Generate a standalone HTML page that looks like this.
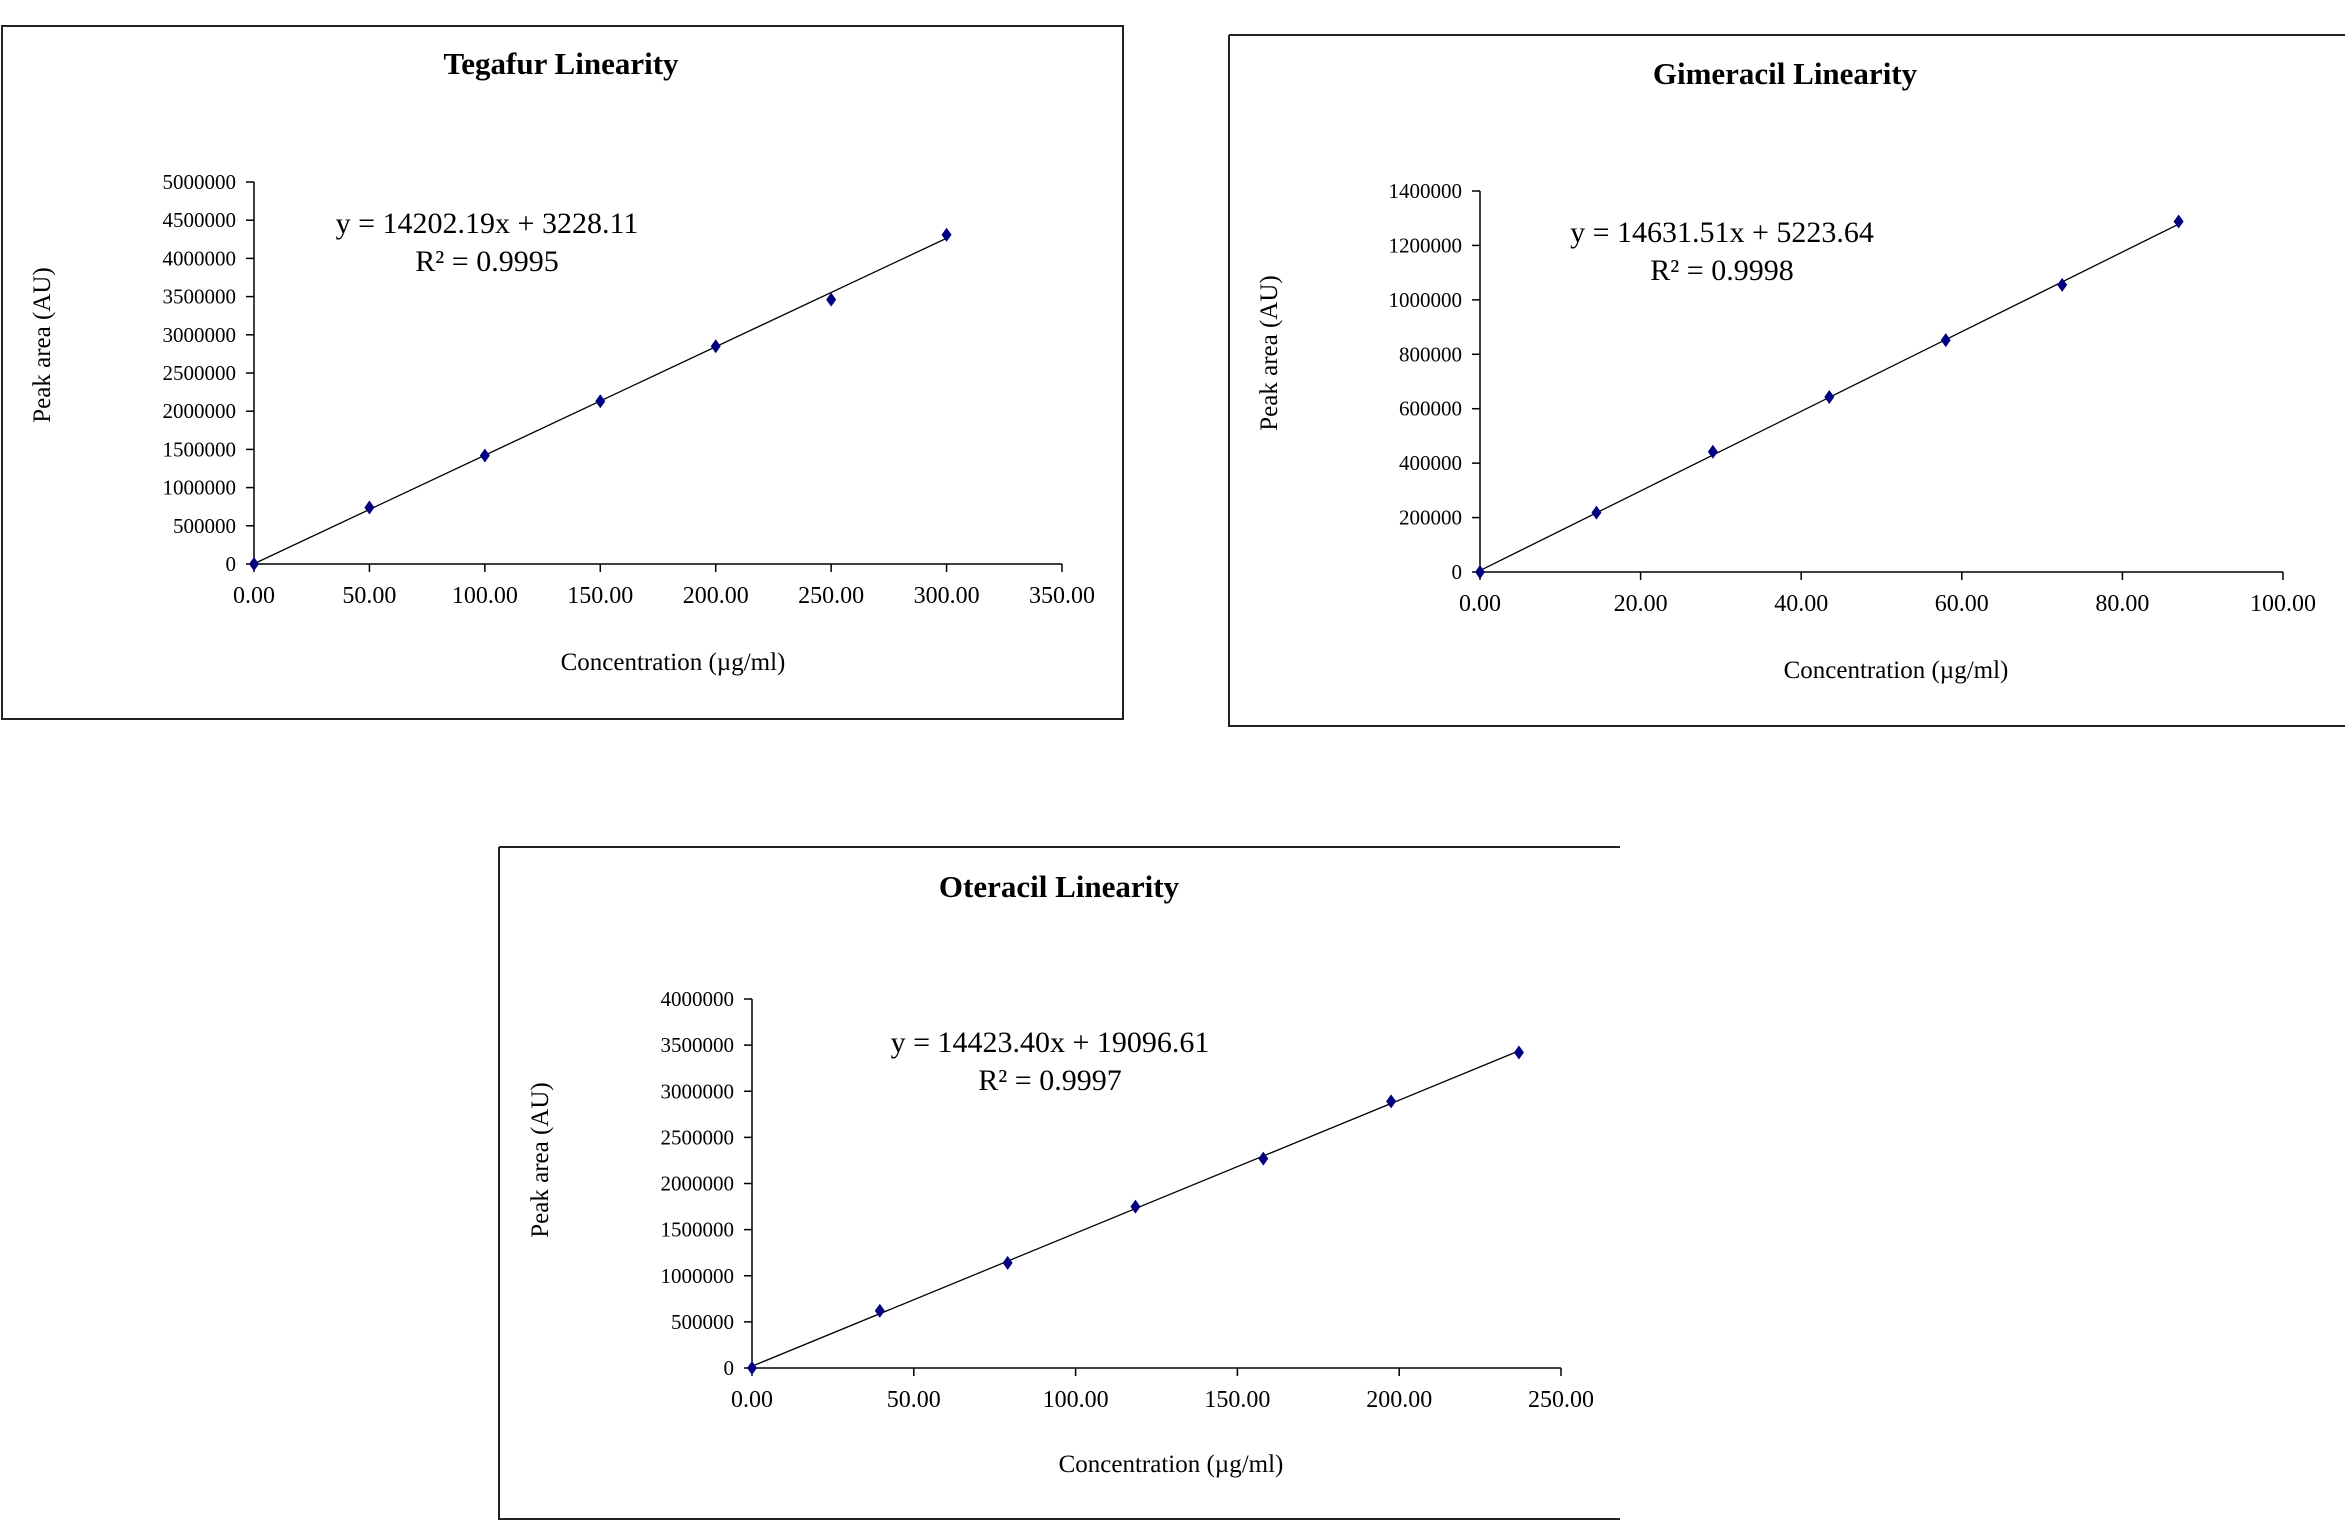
<!DOCTYPE html>
<html><head><meta charset="utf-8"><style>
body{margin:0;background:#fff;}
svg{display:block;font-family:"Liberation Serif",serif;}
</style></head><body>
<svg id="s" width="2345" height="1525" viewBox="0 0 2345 1525" xmlns="http://www.w3.org/2000/svg">
<rect x="2" y="26" width="1121" height="693" fill="none" stroke="#222" stroke-width="2"/>
<path d="M1229 35 H2345 M1229 35 V726 H2345" fill="none" stroke="#222" stroke-width="2"/>
<path d="M499 847 H1620 M499 847 V1519 H1620" fill="none" stroke="#222" stroke-width="2"/>
</svg>
<script>
// Tegafur
const tegX=[0,50,100,150,200,250,300];
const tegY=[0,740000,1420000,2130000,2850000,3460000,4310000];
const tegXTicks=[0,50,100,150,200,250,300,350];
const tegYTicks=[0,500000,1000000,1500000,2000000,2500000,3000000,3500000,4000000,4500000,5000000];
const tegFit=[14202.19,3228.11];
// Gimeracil
const gimX=[0,14.5,29,43.5,58,72.5,87];
const gimY=[0,218000,442000,643000,852000,1055000,1288000];
const gimXTicks=[0,20,40,60,80,100];
const gimYTicks=[0,200000,400000,600000,800000,1000000,1200000,1400000];
const gimFit=[14631.51,5223.64];
// Oteracil
const oteX=[0,39.5,79,118.5,158,197.5,237];
const oteY=[0,620000,1140000,1750000,2270000,2890000,3420000];
const oteXTicks=[0,50,100,150,200,250];
const oteYTicks=[0,500000,1000000,1500000,2000000,2500000,3000000,3500000,4000000];
const oteFit=[14423.40,19096.61];

const NS="http://www.w3.org/2000/svg";
const svg=document.getElementById('s');
function mk(tag,attrs,parent){const e=document.createElementNS(NS,tag);for(const k in attrs)e.setAttribute(k,attrs[k]);(parent||svg).appendChild(e);return e;}
function chart(o){
  const g=mk('g',{});
  
  
  const xmax=o.xt[o.xt.length-1], ymax=o.yt[o.yt.length-1];
  const sx=v=>o.x0+(o.x1-o.x0)*v/xmax;
  const sy=v=>o.y0-(o.y0-o.y1)*v/ymax;
  const t=mk('text',{x:o.tx,y:o.ty,'font-size':31,'font-weight':'bold','text-anchor':'middle'},g);t.textContent=o.title;
  
  
  mk('line',{x1:o.x0,y1:o.y0,x2:o.x0,y2:o.y1,stroke:'#000','stroke-width':1.5},g);
  mk('line',{x1:o.x0,y1:o.y0,x2:o.x1,y2:o.y0,stroke:'#000','stroke-width':1.5},g);
  o.yt.forEach(v=>{const y=sy(v);mk('line',{x1:o.x0-8,y1:y,x2:o.x0,y2:y,stroke:'#000','stroke-width':1.5},g);
    const l=mk('text',{x:o.x0-18,y:y+7,'font-size':21,'text-anchor':'end'},g);l.textContent=String(v);
    
    });
  o.xt.forEach(v=>{const x=sx(v);mk('line',{x1:x,y1:o.y0,x2:x,y2:o.y0+8,stroke:'#000','stroke-width':1.5},g);
    const l=mk('text',{x:x,y:o.y0+39,'font-size':24,'text-anchor':'middle'},g);l.textContent=v.toFixed(2);
    
    });
  const xl=mk('text',{x:o.xlx,y:o.xly,'font-size':25,'text-anchor':'middle'},g);xl.textContent='Concentration (µg/ml)';
  
  
  const yl=mk('text',{x:0,y:0,'font-size':25,'text-anchor':'middle',transform:`translate(${o.ylx},${o.yly}) rotate(-90)`},g);yl.textContent='Peak area (AU)';
  
  
  const xe=o.xs[o.xs.length-1];
  const tl=mk('line',{x1:sx(0),y1:sy(o.fit[1]),x2:sx(xe),y2:sy(o.fit[0]*xe+o.fit[1]),stroke:'#000','stroke-width':1.3},g);
  
  
  o.xs.forEach((v,i)=>{const x=sx(v),y=sy(o.ys[i]);
    const p=mk('path',{d:`M${x} ${y-7}L${x+5} ${y}L${x} ${y+7}L${x-5} ${y}Z`,fill:'#000080'},g);
    
    });
  const e1=mk('text',{x:o.ex,y:o.ey,'font-size':30,'text-anchor':'middle'},g);e1.textContent=o.eq;
  
  
  const e2=mk('text',{x:o.ex,y:o.ey+38,'font-size':30,'text-anchor':'middle'},g);e2.textContent=o.r2;
  
  
}
chart({name:'tegafur-chart',title:'Tegafur Linearity',tx:561,ty:74,x0:254,x1:1062,y0:564,y1:182,xt:tegXTicks,yt:tegYTicks,xs:tegX,ys:tegY,fit:tegFit,
  xlx:673,xly:670,ylx:50,yly:345,ex:487,ey:233,eq:'y = 14202.19x + 3228.11',r2:'R² = 0.9995'});
chart({name:'gimeracil-chart',title:'Gimeracil Linearity',tx:1785,ty:84,x0:1480,x1:2283,y0:572,y1:191,xt:gimXTicks,yt:gimYTicks,xs:gimX,ys:gimY,fit:gimFit,
  xlx:1896,xly:678,ylx:1277,yly:353,ex:1722,ey:242,eq:'y = 14631.51x + 5223.64',r2:'R² = 0.9998'});
chart({name:'oteracil-chart',title:'Oteracil Linearity',tx:1059,ty:897,x0:752,x1:1561,y0:1368,y1:999,xt:oteXTicks,yt:oteYTicks,xs:oteX,ys:oteY,fit:oteFit,
  xlx:1171,xly:1472,ylx:548,yly:1160,ex:1050,ey:1052,eq:'y = 14423.40x + 19096.61',r2:'R² = 0.9997'});
</script>
</body></html>
